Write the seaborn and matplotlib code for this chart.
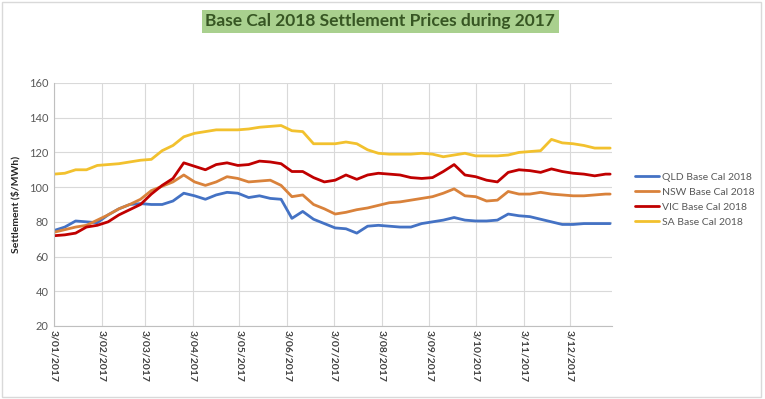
import pandas as pd
import seaborn as sns
import matplotlib
matplotlib.use('Agg')
import matplotlib.pyplot as plt
from matplotlib.patches import Rectangle

# weekly settlement prices, 3 Jan 2017 .. 29 Dec 2017
dates = list(pd.date_range('2017-01-03', periods=52, freq='7D')) + [pd.Timestamp('2017-12-29')]

qld = [75, 77, 80.5, 80, 79.5, 84, 87.5, 90, 90.5, 90, 90, 92, 96.5, 95, 93, 95.5, 97, 96.5, 94, 95,
       93.5, 93, 82, 86, 81.5, 79, 76.5, 76, 73.5, 77.5, 78, 77.5, 77, 77, 79, 80, 81, 82.5, 81, 80.5,
       80.5, 81, 84.5, 83.5, 83, 81.5, 80, 78.5, 78.5, 79, 79, 79, 79]
nsw = [74, 75.5, 77, 78, 81, 84, 87.5, 90, 93, 98, 100.5, 103, 107, 103, 101, 103, 106, 105, 103, 103.5,
       104, 101, 94.5, 95.5, 90, 87.5, 84.5, 85.5, 87, 88, 89.5, 91, 91.5, 92.5, 93.5, 94.5, 96.5, 99, 95, 94.5,
       92, 92.5, 97.5, 96, 96, 97, 96, 95.5, 95, 95, 95.5, 96, 96]
vic = [72, 72.5, 73.5, 77, 78, 80, 84, 87, 90, 96, 101, 105, 114, 112, 110, 113, 114, 112.5, 113, 115,
       114.5, 113.5, 109, 109, 105.5, 103, 104, 107, 104.5, 107, 108, 107.5, 107, 105.5, 105, 105.5, 109, 113, 107, 106,
       104, 103, 108.5, 110, 109.5, 108.5, 110.5, 109, 108, 107.5, 106.5, 107.5, 107.5]
sa = [107.5, 108, 110, 110, 112.5, 113, 113.5, 114.5, 115.5, 116, 121, 124, 129, 131, 132, 133, 133, 133, 133.5, 134.5,
      135, 135.5, 132.5, 132, 125, 125, 125, 126, 125, 121.5, 119.5, 119, 119, 119, 119.5, 119, 117.5, 118.5, 119.5, 118,
      118, 118, 118.5, 120, 120.5, 121, 127.5, 125.5, 125, 124, 122.5, 122.5, 122.5]

series_names = ['QLD Base Cal 2018', 'NSW Base Cal 2018', 'VIC Base Cal 2018', 'SA Base Cal 2018']
colors = ['#4472C4', '#D9823B', '#C00000', '#F2C12E']

tick_dates = pd.date_range('2017-01-01', periods=12, freq='MS') + pd.Timedelta(days=2)
tick_labels = ['3/01/2017', '3/02/2017', '3/03/2017', '3/04/2017', '3/05/2017', '3/06/2017',
               '3/07/2017', '3/08/2017', '3/09/2017', '3/10/2017', '3/11/2017', '3/12/2017']
y_ticks = [20, 40, 60, 80, 100, 120, 140, 160]

df = pd.DataFrame({'Date': dates, series_names[0]: qld, series_names[1]: nsw,
                   series_names[2]: vic, series_names[3]: sa})
df = df.melt(id_vars='Date', var_name='Series', value_name='Price')

sns.set_style('whitegrid')
plt.rcParams['font.family'] = ['Lato', 'DejaVu Sans']

fig = plt.figure(figsize=(7.65, 3.99), dpi=100)
ax = fig.add_axes([0.0706, 0.183, 0.729, 0.609])

sns.lineplot(data=df, x='Date', y='Price', hue='Series', palette=colors,
             hue_order=series_names, linewidth=2, ax=ax)

ax.set_xlim(pd.Timestamp('2017-01-03'), pd.Timestamp('2017-12-30'))
ax.set_ylim(20, 160)
ax.set_yticks(y_ticks)
ax.set_xticks(tick_dates)
ax.set_xticklabels(tick_labels, rotation=-90, fontsize=7.5, fontweight='bold', color='#404040')
ax.tick_params(axis='y', labelsize=8, colors='#595959', length=0, pad=4)
ax.tick_params(axis='x', length=0, pad=3)
ax.grid(color='#d9d9d9', linewidth=0.8)
for side in ['top', 'right']:
    ax.spines[side].set_visible(False)
for side in ['left', 'bottom']:
    ax.spines[side].set_color('#bfbfbf')
    ax.spines[side].set_linewidth(0.8)

ax.set_xlabel('')
ax.set_ylabel('Settlement ($/MWh)', fontsize=7.5, fontweight='bold', color='#262626', labelpad=6)

handles, labels = ax.get_legend_handles_labels()
ax.legend_.remove()
fig.legend(handles, labels, loc='center left', bbox_to_anchor=(0.818, 0.5), frameon=False,
           fontsize=7.5, labelcolor='#595959', handlelength=2.3, handletextpad=0.3, labelspacing=0.55)

fig.text(0.497, 0.947, 'Base Cal 2018 Settlement Prices during 2017', ha='center', va='center',
         fontsize=12.5, fontweight='bold', color='#375623',
         bbox=dict(boxstyle='square,pad=0.2', facecolor='#a9d08e', edgecolor='none'))

fig.patches.append(Rectangle((0.002, 0.004), 0.993, 0.99, transform=fig.transFigure,
                             fill=False, edgecolor='#d9d9d9', linewidth=1))

fig.savefig('out.png', dpi=100)
